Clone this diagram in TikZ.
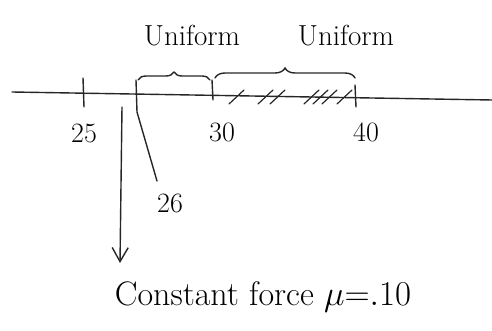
\documentclass[tikz,border=0pt]{standalone}
\usepackage{graphicx}
\usetikzlibrary{arrows.meta,decorations.pathreplacing}
\begin{document}
\begin{tikzpicture}[x=1pt,y=-1pt,line cap=round,
  ink/.style={line width=1.4pt,black!85},
  lab/.style={font=\fontsize{29}{34}\selectfont,inner sep=0pt},
  num/.style={font=\fontsize{28}{32}\selectfont,inner sep=0pt},
  bracestyle/.style={ink,decorate,decoration={brace,amplitude=8pt}},
  hatch/.style={ink,line width=1.2pt}]
\useasboundingbox (0,0) rectangle (492,331);
% axis
\coordinate (axL) at (12,92);
\coordinate (axR) at (492,100);
\draw[ink] (axL) -- (axR);
% ticks
\coordinate (t25a) at (83,78);   \coordinate (t25b) at (84,107);
\coordinate (t30a) at (212,80);  \coordinate (t30b) at (213,100);
\coordinate (t40a) at (355,85);  \coordinate (t40b) at (356,107);
\draw[ink] (t25a) -- (t25b);
\draw[ink] (t30a) -- (t30b);
\draw[ink] (t40a) -- (t40b);
% labels
\node[num] (n25) at (84,133) {25};
\node[num] (n30) at (222,132) {30};
\node[num] (n40) at (366,132) {40};
% braces
\coordinate (b1a) at (138,80); \coordinate (b1b) at (210,80);
\coordinate (b2a) at (215,78); \coordinate (b2b) at (355,78);
\draw[bracestyle] (b1a) -- (b1b);
\draw[bracestyle,decoration={amplitude=10pt}] (b2a) -- (b2b);
\node[lab] (u1) at (192,36) {Uniform};
\node[lab] (u2) at (346,36) {Uniform};
% hatch marks
\foreach \hx in {237,266,278,312,321,330,345}
  \draw[hatch] (\hx-8,104) -- (\hx+7,90);
% 26 pointer
\node[num] (n26) at (170,203) {26};
\coordinate (p26a) at (136,80);
\coordinate (p26b) at (137,112);
\coordinate (p26c) at (157,181);
\draw[ink] (p26a) -- (p26b) -- (p26c);
% constant force arrow
\node[lab,font=\fontsize{34}{40}\selectfont] (cf) at (263,297) {Constant force \scalebox{1.4}{$\mu{=}.10$}};
\coordinate (fa) at (122,107);
\coordinate (fb) at (120,263);
\draw[ink,-{Straight Barb[length=14pt,width=16pt,line width=1.4pt]}] (fa) -- (fb);
\end{tikzpicture}
\end{document}
